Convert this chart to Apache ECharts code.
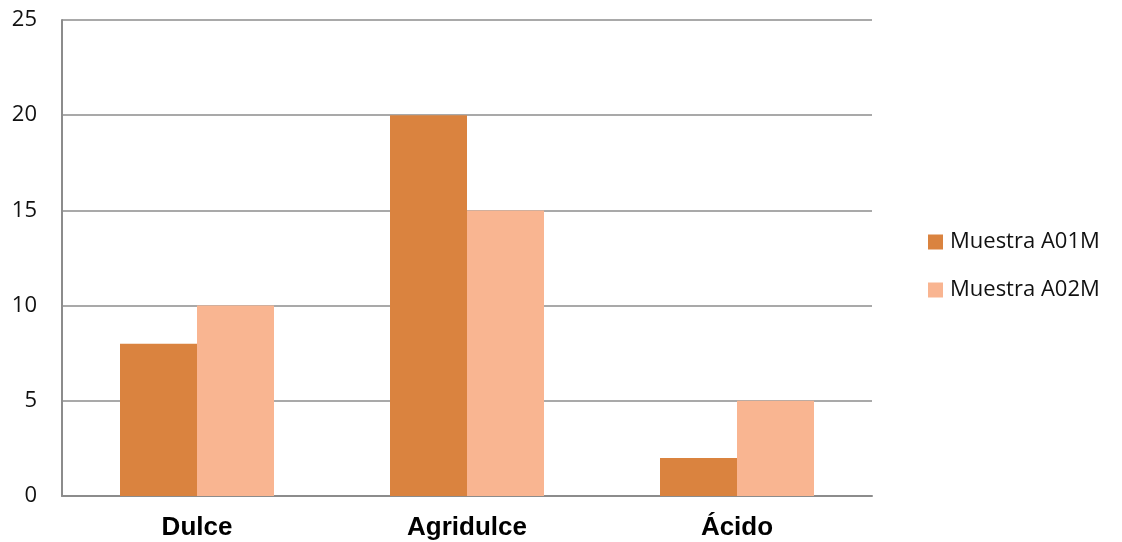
<!DOCTYPE html>
<html>
<head>
<meta charset="utf-8">
<script src="https://cdn.jsdelivr.net/npm/echarts@6/dist/echarts.min.js"></script>
<style>
  html, body { margin: 0; padding: 0; background: #fff; }
  #chart { width: 1122px; height: 542px; }
</style>
</head>
<body>
<div id="chart"></div>
<script>
// Taste categories and sample scores
const categories = ['Dulce', 'Agridulce', 'Ácido'];
const seriesNames = ['Muestra A01M', 'Muestra A02M'];
const valuesA01M = [8, 20, 2];
const valuesA02M = [10, 15, 5];
const colors = ['#DA833F', '#F9B591'];

const chart = echarts.init(document.getElementById('chart'), null, { renderer: 'canvas' });

chart.setOption({
  animation: false,
  backgroundColor: '#ffffff',
  color: colors,
  grid: { left: 62, right: 250, top: 20, bottom: 46, containLabel: false },
  legend: {
    orient: 'vertical',
    left: 923,
    top: 224,
    itemWidth: 15,
    itemHeight: 15,
    itemGap: 22,
    icon: 'rect',
    textStyle: { fontFamily: 'Open Sans, Liberation Sans, sans-serif', fontSize: 22, color: '#111', lineHeight: 26, padding: [0, 0, 0, 2] },
    data: seriesNames
  },
  xAxis: {
    type: 'category',
    data: categories,
    axisLine: { lineStyle: { color: '#8c8c8c', width: 2 } },
    axisTick: { show: false },
    axisLabel: {
      margin: 19,
      fontFamily: 'Liberation Sans, Arial, sans-serif',
      fontWeight: 'bold',
      fontSize: 26,
      color: '#000'
    }
  },
  yAxis: {
    type: 'value',
    min: 0,
    max: 25,
    interval: 5,
    axisLine: { show: true, lineStyle: { color: '#8c8c8c', width: 2 } },
    axisTick: { show: false },
    splitLine: { lineStyle: { color: '#8c8c8c', width: 1.5 } },
    axisLabel: {
      margin: 25,
      fontFamily: 'Open Sans, Liberation Sans, sans-serif',
      fontSize: 22,
      color: '#111'
    }
  },
  series: [
    { name: seriesNames[0], type: 'bar', data: valuesA01M, barWidth: 77, barGap: '0%' },
    { name: seriesNames[1], type: 'bar', data: valuesA02M, barWidth: 77, barGap: '0%' }
  ]
});
</script>
</body>
</html>
